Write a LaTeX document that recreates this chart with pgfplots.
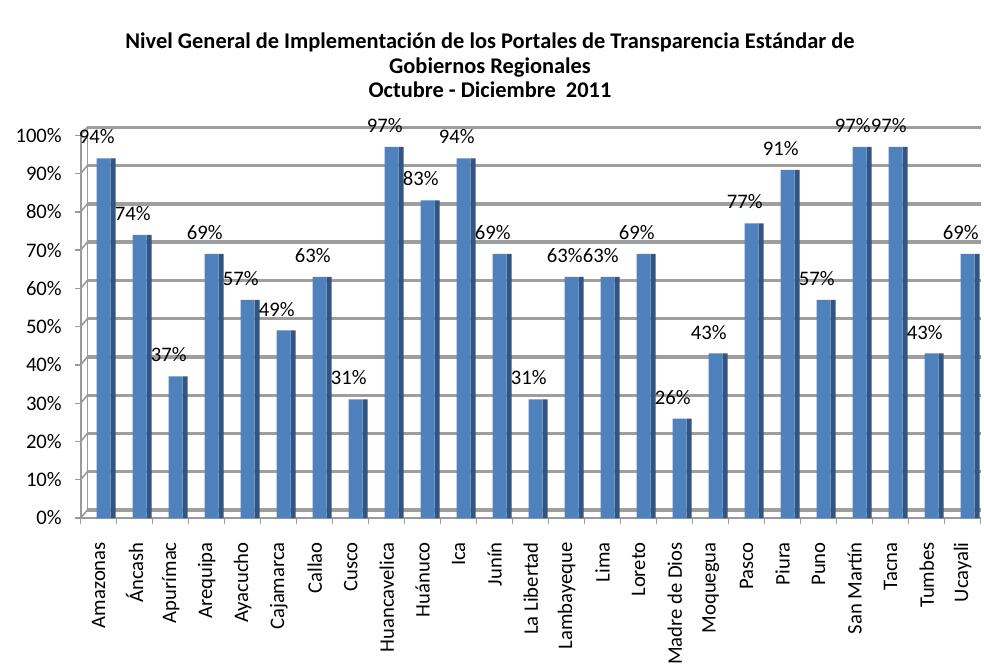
\documentclass[border=0pt]{standalone}
\usepackage{fontspec}
\setmainfont{Carlito}
\usepackage{pgfplots}
\pgfplotsset{compat=1.18}
\definecolor{barf}{HTML}{4F81BD}
\definecolor{bars}{HTML}{34557F}
\definecolor{gridc}{HTML}{9E9E9E}
\definecolor{axc}{HTML}{9A9A9A}
\newcommand\lbl{\fontsize{15.5}{18}\selectfont}
\begin{document}
\begin{tikzpicture}[x=1pt,y=1pt]
\useasboundingbox (0,0) rectangle (738,498);
\node[font=\fontsize{16.8}{18.5}\selectfont\bfseries, align=center] at (367.5,449)
  {Nivel General de Implementación de los Portales de Transparencia Estándar de\\Gobiernos Regionales\\Octubre - Diciembre \ 2011};
\begin{axis}[
  at={(60.5pt,109.5pt)}, anchor=south west,
  width=675pt, height=287pt, scale only axis,
  xmin=-0.5, xmax=24.5, ymin=0, ymax=100,
  clip=false,
  axis x line*=bottom, axis y line*=left,
  axis line style={-, draw=axc, line width=1.5pt},
  xtick={0,...,24},
  xticklabels={Amazonas,Áncash,Apurímac,Arequipa,Ayacucho,Cajamarca,Callao,Cusco,Huancavelica,Huánuco,Ica,Junín,La Libertad,Lambayeque,Lima,Loreto,Madre de Dios,Moquegua,Pasco,Piura,Puno,San Martín,Tacna,Tumbes,Ucayali},
  minor xtick={-0.5,0.5,...,24.5},
  major x tick style={draw=none},
  minor x tick style={draw=axc, line width=1pt},
  minor tick length=4.5pt,
  ytick={0,10,...,100},
  y tick style={draw=axc, line width=1pt},
  major tick length=4pt,
  tick align=outside,
  xticklabel style={rotate=90, anchor=east, font=\lbl, inner sep=0pt},
  xticklabel shift=14pt,
  yticklabel style={font=\lbl, inner sep=0pt},
  yticklabel shift=10pt,
  yticklabel={\pgfmathprintnumber{\tick}\%},
  /pgf/number format/assume math mode=true,
]
% back wall grid and side wall
\pgfplotsinvokeforeach{0,10,...,100}{
  \draw[gridc, line width=2.5pt] ([xshift=5pt,yshift=6pt]axis cs:-0.5,#1) -- ([yshift=6pt]axis cs:24.5,#1);
  \draw[axc, line width=1.2pt] (axis cs:-0.5,#1) -- ([xshift=5pt,yshift=6pt]axis cs:-0.5,#1);
}
\draw[axc, line width=1.2pt] ([xshift=5pt,yshift=6pt]axis cs:-0.5,0) -- ([xshift=5pt,yshift=6pt]axis cs:-0.5,100);
% bar sides
\addplot[ybar, bar width=3.75pt, bar shift=10.9pt, fill=bars, draw=none] coordinates {
(0,94) (1,74) (2,37) (3,69) (4,57) (5,49) (6,63) (7,31) (8,97) (9,83) (10,94) (11,69) (12,31)
(13,63) (14,63) (15,69) (16,26) (17,43) (18,77) (19,91) (20,57) (21,97) (22,97) (23,43) (24,69)};
% bar fronts
\addplot[ybar, bar width=10.5pt, bar shift=3.75pt, fill=barf, draw=none,
  nodes near coords={\pgfmathprintnumber{\pgfplotspointmeta}\%},
  every node near coord/.append style={font=\lbl, anchor=south, inner sep=0pt, yshift=10.5pt, xshift=-1.5pt, text=black}] coordinates {
(0,94) (1,74) (2,37) (3,69) (4,57) (5,49) (6,63) (7,31) (8,97) (9,83) (10,94) (11,69) (12,31)
(13,63) (14,63) (15,69) (16,26) (17,43) (18,77) (19,91) (20,57) (21,97) (22,97) (23,43) (24,69)};
\end{axis}
\end{tikzpicture}
\end{document}
